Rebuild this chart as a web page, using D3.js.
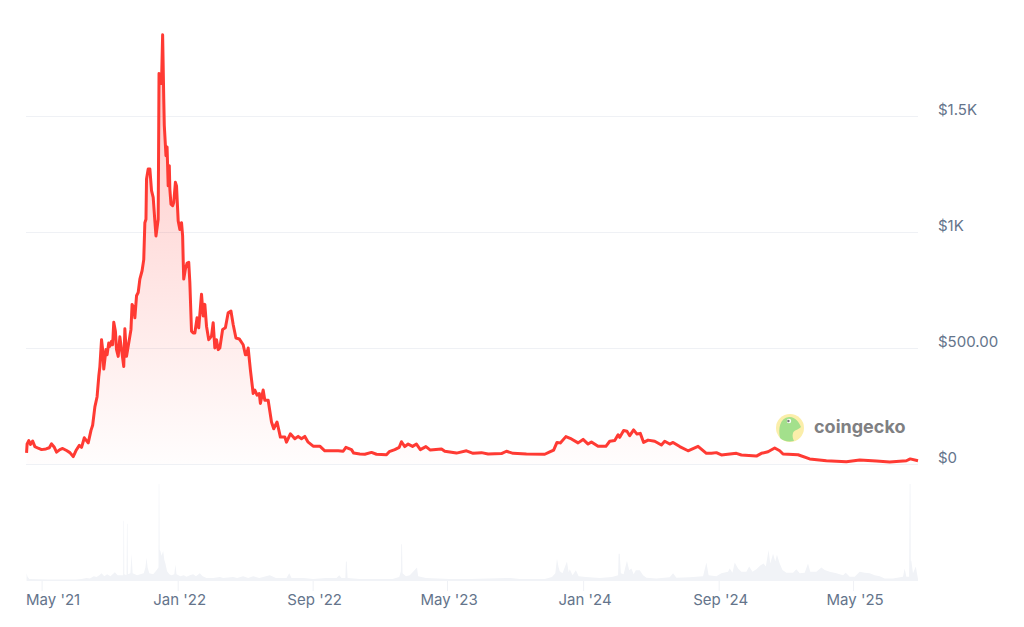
<!DOCTYPE html>
<html>
<head>
<meta charset="utf-8">
<script src="https://cdn.jsdelivr.net/npm/d3@7"></script>
<style>
  html, body { margin: 0; padding: 0; background: #fff; }
  text { font-family: Inter, "Noto Sans", sans-serif; }
</style>
</head>
<body>
<svg id="chart" width="1024" height="627"></svg>
<script>
var startDate = new Date(2021, 3, 2);

// days since startDate, price in usd
var priceDays = [1,2,5,8,12,16,22,28,36,42,46,51,55,61,66,73,79,85,90,96,100,105,112,117,120,124,128,131,133,136,138,140,144,146,149,151,154,156,158,161,163,166,169,172,176,178,181,184,189,191,194,196,199,202,205,209,
  212,214,216,217,220,223,226,229,232,234,238,239,239.5,242,244,246,248,249,251,252,254,256,258,259,261,264,266,269,271,274,277,280,282,283,
  284,287,290,293,295,298,301,304,308,311,316,319,322,325,329,334,337,340,343,346,349,354,359,364,369,373,378,384,391,395,397,400,404,409,412,416,420,422,427,430,436,442,446,452,458,466,469,476,484,490,496,502,508,517,529,
  538,550,562,571,576,586,590,601,610,622,631,649,654,664,672,676,682,688,696,703,710,720,728,748,754,775,793,805,820,832,856,865,877,901,934,943,950,956,962,972,982,994,1003,1012,1018,1030,1044,1051,1060,1066,
  1069,1076,1082,1087,1094,1100,1106,1112,1120,1132,1144,1150,1159,1165,1177,1192,1210,1225,1234,1243,1252,1279,1288,1315,1324,1336,1348,1357,1363,1390,1411,1441,1477,1501,1531,1555,1585,1592,1606];
var priceUsd = [48,87,101,84,99,75,68,62,65,70,87,72,51,62,67,58,49,32,58,80,72,113,91,145,167,246,290,377,420,536,493,409,493,471,522,507,529,514,611,572,493,464,548,493,420,583,464,507,580,688,674,630,725,739,797,833,
  881,1040,1055,1228,1272,1272,1178,1149,1048,983,1055,1459,1683,1676,1640,1850,1575,1459,1373,1329,1366,1199,1286,1185,1120,1113,1127,1214,1199,1048,1011,1040,983,881,
  797,840,866,869,782,572,565,565,630,587,732,638,688,594,536,551,609,500,536,493,500,580,587,652,659,601,543,539,514,471,471,500,406,304,319,297,304,261,319,275,275,181,152,181,116,116,94,130,109,119,109,119,94,77,77,
  57,57,57,55,72,62,47,43,42,50,42,40,53,62,72,96,75,86,76,86,62,75,60,65,55,47,57,46,49,43,45,55,46,43,42,52,60,93,91,118,108,91,106,86,95,76,76,98,101,126,
  115,144,141,122,147,129,132,93,103,98,82,98,86,93,75,57,76,46,46,49,39,46,39,34,46,53,69,57,43,40,22,14,10,17,13,9,14,22,14];

// traded volume, percent of the largest day
var volumeDays = [1,3,6,40,90,100,109,115,122,127,132,136,141,146,152,156,160,165,170,175,175.5,176.5,177,181,181.8,182.8,183.5,188,190,192,200,206,212,215,217,219,222,229,235,238.5,239,240,240.6,242,244,247,249,251,254,258,262,267,269,271,278,284,289,295,301,306,313,318,325,337,349,355,373,380,391,400,409,420,439,450,469,474,478,500,517,540,559,564,568,575,576,577.5,579,601,637,660,672,675,675.6,677,678,684,691,704,706,720,763,800,866,872,889,934,947,953,956,959,961,966,974,977,979,984,990,995,1008,1033,1055,1066,1067,1069,1071,1076,1082,1086,1090,1094,1098,
  1105,1111,1117,1135,1159,1165,1171,1195,1219,1225,1229,1243,1252,1264,1267,1272,1276,1282,1288,1297,1302,1308,1315,1322,1328,1332,1337,1340,1345,1349,1352,1357,1362,1369,1381,1387,1393,1402,1408,1412,1423,1432,1438,1447,1459,1471,1476,1483,1492,1501,1510,1519,1528,1537,1546,1561,1579,1582,1585,1590,1591,1592.5,1593,1594,1597,1602,1606];
var volumePct = [8,4,2,1.5,1.5,2,3,2.5,5,4,6,8,5,7,5,7,9,6,6,6,62,62,7,6,59,59,7,8,28,8,6,7,8,14,24,14,8,7,11,14,100,100,32,31,26,31,22,18,10,7,6,7,17,7,5,6,4.5,6,7,5,8,5,3,3,4,3,4,3,5,3,5,3,6,3,3,8,3,3,2,3,3,6,3,3,20,20,3,2,2,2,4,10,38,38,8,5,6,14,5,3,2,2,3,3,2,2,4,8,23,14,10,8,20,9,12,6,11,5,4,3,4,6,28,28,8,7,21,11,13,7,11,
  11,6,3.4,2.7,3.8,8,3.4,3.8,5,19,6,5,8,9.6,13,8.6,19,13,9.6,9.6,15,9.6,12,16,18,15,32,18,28,20,27,18,11.3,8.6,8.6,12,8,8.6,18,9.6,9.6,14,11.3,9.6,8,6,8.6,4.5,4.5,9.6,8.6,8,6,5,2.7,2.7,4.5,13,4.5,4.5,100,100,21,21,8,15,2];

var tickDates = [new Date(2021,4,1), new Date(2022,0,1), new Date(2022,8,1), new Date(2023,4,1), new Date(2024,0,1), new Date(2024,8,1), new Date(2025,4,1)];
var tickLabels = ["May '21","Jan '22","Sep '22","May '23","Jan '24","Sep '24","May '25"];
var yTicks = [0,500,1000,1500];
var yLabels = ["$0","$500.00","$1K","$1.5K"];

function dayToDate(d){ return new Date(startDate.getTime() + d*864e5); }

var prices = priceDays.map(function(d,i){ return {date: dayToDate(d), usd: priceUsd[i]}; });
var volumes = volumeDays.map(function(d,i){ return {date: dayToDate(d), pct: volumePct[i]}; });

var svg = d3.select("#chart");
var x = d3.scaleTime().domain([dayToDate(0), dayToDate(1606)]).range([26,918]);
var y = d3.scaleLinear().domain([0,1500]).range([464,116]);
var yVol = d3.scaleLinear().domain([0,100]).range([581,484]);

var grad = svg.append("defs").append("linearGradient").attr("id","fade")
  .attr("gradientUnits","userSpaceOnUse").attr("x1",0).attr("x2",0).attr("y1",34).attr("y2",464);
grad.append("stop").attr("offset","0%").attr("stop-color","#ff3a33").attr("stop-opacity",0.3);
grad.append("stop").attr("offset","100%").attr("stop-color","#ff3a33").attr("stop-opacity",0.01);

// grid
svg.selectAll("line.grid").data(yTicks).enter().append("line")
  .attr("class","grid")
  .attr("x1",26).attr("x2",918)
  .attr("y1",function(d){ return y(d)+0.5; }).attr("y2",function(d){ return y(d)+0.5; })
  .attr("stroke","#eff1f5").attr("stroke-width",1);

svg.selectAll("text.ylab").data(yTicks).enter().append("text")
  .attr("class","ylab")
  .attr("x",938).attr("y",function(d){ return y(d)-1; })
  .attr("fill","#64748b").attr("font-size",15)
  .text(function(d,i){ return yLabels[i]; });

// volume
svg.append("path").datum(volumes)
  .attr("fill","#f1f3f7")
  .attr("d", d3.area().x(function(d){ return x(d.date); }).y0(yVol(0)).y1(function(d){ return yVol(d.pct); }));

svg.selectAll("line.tick").data(tickDates).enter().append("line")
  .attr("class","tick")
  .attr("x1",function(d){ return x(d); }).attr("x2",function(d){ return x(d); })
  .attr("y1",581).attr("y2",591)
  .attr("stroke","#eff1f5");

// the first label would run past the plot edge, so it starts at the edge
svg.selectAll("text.xlab").data(tickDates).enter().append("text")
  .attr("class","xlab")
  .attr("x",function(d,i){ return i === 0 ? 26 : x(d) + 1.5; }).attr("y",605)
  .attr("text-anchor",function(d,i){ return i === 0 ? "start" : "middle"; })
  .attr("fill","#64748b").attr("font-size",15)
  .text(function(d,i){ return tickLabels[i]; });

// price
svg.append("path").datum(prices)
  .attr("fill","url(#fade)")
  .attr("d", d3.area().x(function(d){ return x(d.date); }).y0(y(0)).y1(function(d){ return y(d.usd); }));

svg.append("path").datum(prices)
  .attr("fill","none").attr("stroke","#ff3a33").attr("stroke-width",3).attr("stroke-linejoin","round")
  .attr("d", d3.line().x(function(d){ return x(d.date); }).y(function(d){ return y(d.usd); }));

// coingecko mark
var logo = svg.append("g").attr("transform","translate(790,428)");
logo.append("circle").attr("r",14).attr("fill","#fbeeaa");
logo.append("path").attr("fill","#a3e08c")
  .attr("d","M-10,10 C-12,0 -10,-10 -1,-11 C5,-11.5 9,-6 11,-1 C8,2 4,2 3,5 C2,8 3,11 4,13 C-2,14 -7,13 -10,10 Z");
logo.append("circle").attr("cx",-1).attr("cy",-7).attr("r",2.2).attr("fill","#fff");
logo.append("circle").attr("cx",-1.6).attr("cy",-7).attr("r",1.2).attr("fill","#777");
svg.append("text").attr("x",814).attr("y",433).attr("fill","#7f8082")
  .attr("font-size",18).attr("font-weight",700).text("coingecko");
</script>
</body>
</html>
